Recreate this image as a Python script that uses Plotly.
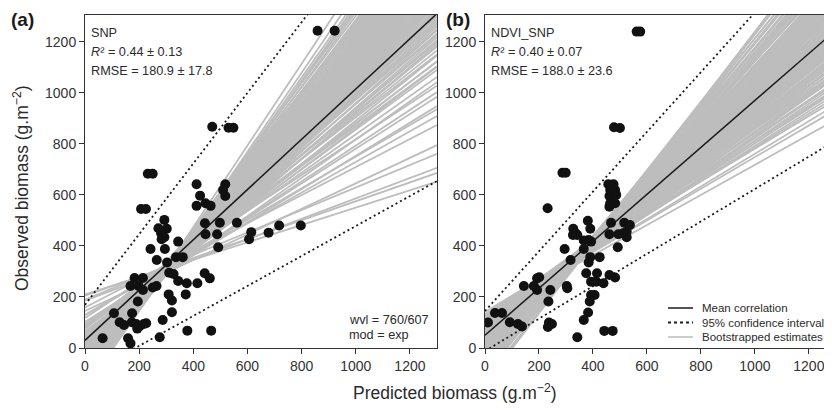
import plotly.graph_objects as go

X_END = 1300
FONT = "Liberation Sans, Arial, sans-serif"
INK = "#1a1a1a"
GRAY = "#bdbdbd"

# ---- panel (a): SNP ----
pred_a = [232, 250, 207, 225, 412, 518, 425, 510, 518, 412, 445, 464, 293, 443, 498, 561,
          271, 302, 281, 283, 293, 344, 445, 488, 614, 606, 678, 717, 797, 242, 295, 492,
          265, 303, 336, 361, 311, 327, 344, 376, 415, 442, 461, 183, 214, 168, 198, 214,
          250, 264, 309, 321, 372, 195, 107, 174, 321, 128, 144, 173, 189, 201, 217, 226,
          193, 287, 378, 466, 65, 159, 168, 276, 470, 530, 548, 859, 922]
obs_a = [683, 683, 545, 545, 642, 642, 597, 619, 596, 557, 567, 557, 502, 489, 491, 491,
         469, 467, 450, 426, 434, 417, 446, 446, 454, 426, 452, 480, 480, 388, 388, 395,
         345, 335, 356, 356, 295, 290, 263, 254, 254, 293, 273, 274, 274, 243, 243, 227,
         237, 243, 210, 186, 210, 182, 136, 136, 140, 101, 90, 101, 94, 84, 94, 97,
         76, 110, 68, 68, 38, 38, 18, 42, 867, 863, 863, 1243, 1243]
mean_a = (30, 0.985)                       # intercept, slope
ci_a = [(169, 1.385), (-109, 0.587)]
boot_a_int = [210, 205, 186, 189, 145, 159, 129, 103, 118, 93, 87, 67, 82, 62, 61, 41, 76,
              36, 56, 21, 25, 45, 10, 35, 0, 15, 30, -10, 10,
              -17, -7, 8, 23, -2, 13, -35, -25, -15, -5, 5, -20, -10,
              -42, -32, -22, -12, -2, -27, -17, -60, -50, -40, -30, -20, -45, -25,
              -67, -57, -47, -37, -27, -52, -84, -69, -54, -39, -64,
              -92, -77, -62, -87, -67, -109, -94, -79, -64, -112, -97, -82,
              -129, -114, -99, -135, -120, -155, -140, -161, -166,
              39, 55, 22, 37, 53, 11, 27, 41, -9, 6, 22, -4, -1, 13, -22, -7,
              -29, -13, -3, -34, -31, -11, -41, -25, -28, -59, -44, -24, -66, -50, -40, -71,
              -69, -49, -79, -75, -65, -96, -93, -73, -116, -100, -105, -137,
              76, 90, 58, 84, 130, 101]
boot_a_slope = [0.34, 0.37, 0.40, 0.44, 0.50, 0.55, 0.60, 0.65, 0.70, 0.70, 0.75, 0.75, 0.80,
                0.80, 0.85, 0.85, 0.85, 0.90, 0.90, 0.90, 0.95, 0.95, 0.95, 0.95,
                1.00, 1.00, 1.00, 1.00, 1.00,
                1.04, 1.04, 1.04, 1.04, 1.04, 1.04, 1.08, 1.08, 1.08, 1.08, 1.08, 1.08, 1.08,
                1.12, 1.12, 1.12, 1.12, 1.12, 1.12, 1.12, 1.16, 1.16, 1.16, 1.16, 1.16, 1.16, 1.16,
                1.20, 1.20, 1.20, 1.20, 1.20, 1.20, 1.24, 1.24, 1.24, 1.24, 1.24,
                1.28, 1.28, 1.28, 1.28, 1.28, 1.32, 1.32, 1.32, 1.32, 1.36, 1.36, 1.36,
                1.40, 1.40, 1.40, 1.45, 1.45, 1.50, 1.50, 1.55, 1.60,
                0.88, 0.88, 0.92, 0.92, 0.92, 0.97, 0.97, 0.97, 1.02, 1.02, 1.02, 1.02,
                1.06, 1.06, 1.06, 1.06, 1.10, 1.10, 1.10, 1.10, 1.14, 1.14, 1.14, 1.14,
                1.18, 1.18, 1.18, 1.18, 1.22, 1.22, 1.22, 1.22, 1.26, 1.26, 1.26,
                1.30, 1.30, 1.30, 1.34, 1.34, 1.38, 1.38, 1.43, 1.48,
                0.78, 0.78, 0.82, 0.82, 0.62, 0.68]

# ---- panel (b): NDVI_SNP ----
pred_b = [287, 299, 232, 457, 476, 464, 482, 461, 486, 464, 482, 461, 381, 327, 336, 390,
          326, 342, 366, 384, 393, 366, 295, 467, 516, 537, 461, 494, 512, 525, 525, 492,
          317, 390, 425, 384, 375, 415, 461, 482, 393, 412, 439, 201, 193, 144, 181, 193,
          242, 303, 305, 393, 406, 235, 388, 382, 366, 37, 63, 11, 92, 122, 137, 237,
          248, 233, 342, 442, 473, 562, 575, 478, 500]
obs_b = [687, 687, 548, 642, 642, 619, 619, 596, 600, 567, 567, 554, 499, 467, 450, 467,
         443, 443, 421, 423, 417, 388, 388, 491, 491, 482, 446, 446, 450, 434, 456, 395,
         345, 356, 356, 335, 293, 293, 286, 276, 260, 260, 254, 277, 273, 243, 243, 227,
         227, 243, 234, 208, 208, 182, 182, 139, 110, 137, 137, 100, 101, 94, 84, 100,
         94, 82, 42, 67, 67, 1240, 1240, 865, 862]
mean_b = (50, 0.92)
ci_b = [(145, 1.17), (-12, 0.635)]
boot_b_int = [128, 128, 121, 141, 112, 132, 122, 93, 108, 123, 103, 74, 89, 104, 119, 84,
              65, 80, 95, 70, 85, 100, 46, 61, 76, 91, 56, 71, 86, 37, 52, 67, 32, 47, 62, 77,
              18, 28, 38, 48, 58, 23, 43, 63, 9, 19, 29, 39, 49, 14, 34,
              -10, 5, 20, 35, 0, 15, 30, -19, -4, 11, -14, 1, 16, -38, -23, -8, 7, -28, -13,
              -47, -32, -17, -37, -22, -66, -51, -36, -56, -75, -60, -45, -65,
              -94, -79, -64, -103, -88, -122, -107, -131, -140,
              103, 127, 103, 118, 79, 95, 110, 70, 85, 61, 61, 76, 51, 67, 68, 42, 57, 33,
              33, 48, 23, 39, 40, 14, 29, 5, 5, 20, -5, 11, 12, -14, 1, -37, -23, -8,
              -47, -31, -16, -56, -41, -79, -65, -64, -89, -87, 126, -107, 24, 50]
boot_b_slope = [0.59, 0.62, 0.64, 0.64, 0.68, 0.68, 0.68, 0.72, 0.72, 0.72, 0.72,
                0.76, 0.76, 0.76, 0.76, 0.76, 0.80, 0.80, 0.80, 0.80, 0.80, 0.80,
                0.84, 0.84, 0.84, 0.84, 0.84, 0.84, 0.84, 0.88, 0.88, 0.88, 0.88, 0.88, 0.88, 0.88,
                0.92, 0.92, 0.92, 0.92, 0.92, 0.92, 0.92, 0.92, 0.96, 0.96, 0.96, 0.96, 0.96, 0.96, 0.96,
                1.00, 1.00, 1.00, 1.00, 1.00, 1.00, 1.00, 1.04, 1.04, 1.04, 1.04, 1.04, 1.04,
                1.08, 1.08, 1.08, 1.08, 1.08, 1.08, 1.12, 1.12, 1.12, 1.12, 1.12,
                1.16, 1.16, 1.16, 1.16, 1.20, 1.20, 1.20, 1.20, 1.24, 1.24, 1.24,
                1.28, 1.28, 1.32, 1.32, 1.36, 1.38,
                0.70, 0.70, 0.74, 0.74, 0.78, 0.78, 0.78, 0.82, 0.82, 0.82, 0.86, 0.86, 0.86, 0.86,
                0.90, 0.90, 0.90, 0.90, 0.94, 0.94, 0.94, 0.94, 0.98, 0.98, 0.98, 0.98,
                1.02, 1.02, 1.02, 1.02, 1.06, 1.06, 1.06, 1.10, 1.10, 1.10,
                1.14, 1.14, 1.14, 1.18, 1.18, 1.22, 1.22, 1.26, 1.26, 1.30, 0.66, 1.34, 0.96, 0.90]

TICKS = [0, 200, 400, 600, 800, 1000, 1200]

# the page body keeps an 8px margin, so the figure is 8px smaller and all
# positions below are given in window pixels
OFF = 8
W, H = 832 - OFF, 410 - OFF


def px(v):
    return (v - OFF) / W


def py(v):
    return (H - (v - OFF)) / H


def _segments(intercepts, slopes):
    """Regression lines as one trace: x from 0 to X_END, separated by None."""
    xs, ys = [], []
    for b, m in zip(intercepts, slopes):
        xs += [0, X_END, None]
        ys += [b, b + m * X_END, None]
    return xs, ys


def add_panel(fig, xa, ya, pred, obs, mean, ci, boot_int, boot_slope):
    bx, by = _segments(boot_int, boot_slope)
    fig.add_trace(go.Scatter(x=bx, y=by, mode="lines", xaxis=xa, yaxis=ya,
                             line=dict(color=GRAY, width=1.8), hoverinfo="skip"))
    cx, cy = _segments([c[0] for c in ci], [c[1] for c in ci])
    fig.add_trace(go.Scatter(x=cx, y=cy, mode="lines", xaxis=xa, yaxis=ya,
                             line=dict(color=INK, width=1.8, dash="2px,3px"), hoverinfo="skip"))
    mx, my = _segments([mean[0]], [mean[1]])
    fig.add_trace(go.Scatter(x=mx, y=my, mode="lines", xaxis=xa, yaxis=ya,
                             line=dict(color=INK, width=1.5), hoverinfo="skip"))
    fig.add_trace(go.Scatter(x=pred, y=obs, mode="markers", xaxis=xa, yaxis=ya,
                             marker=dict(color="#111111", size=10, line=dict(width=0))))


fig = go.Figure()
add_panel(fig, "x", "y", pred_a, obs_a, mean_a, ci_a, boot_a_int, boot_a_slope)
add_panel(fig, "x2", "y2", pred_b, obs_b, mean_b, ci_b, boot_b_int, boot_b_slope)

axis = dict(tickvals=TICKS, ticks="outside", ticklen=5, tickwidth=1, tickcolor="#333",
            showline=True, linecolor="#333", linewidth=1, mirror=True, showgrid=False,
            zeroline=False, automargin=False, tickfont=dict(size=14, color="#333", family=FONT))

annots = []


def text(x, y, s, size=12, color="#2b2b2b", xanchor="left", **kw):
    annots.append(dict(x=px(x), y=py(y), xref="paper", yref="paper", text=s, showarrow=False,
                       xanchor=xanchor, yanchor="middle",
                       font=dict(size=size, color=color, family=FONT), **kw))


text(22, 20, "<b>(a)</b>", size=19, color=INK, xanchor="center")
text(458, 20, "<b>(b)</b>", size=19, color=INK, xanchor="center")

for x0, lines in [(89, ["SNP", "<i>R</i>² = 0.44 ± 0.13", "RMSE = 180.9 ± 17.8"]),
                  (489, ["NDVI_SNP", "<i>R</i>² = 0.40 ± 0.07", "RMSE = 188.0 ± 23.6"])]:
    for i, s in enumerate(lines):
        text(x0, 33 + 19 * i, s, size=12.7)

text(347, 320, "wvl = 760/607", size=12.7)
text(347, 335, "mod = exp", size=12.7)

text(21, 188, "Observed biomass (g.m<sup>−2</sup>)", size=17.5, xanchor="center", textangle=-90)
text(455, 392, "Predicted biomass (g.m<sup>−2</sup>)", size=17.5, xanchor="center")

# legend (panel b, lower right)
shapes = []
legend_rows = [("Mean correlation", "solid", INK, 1.5),
               ("95% confidence interval", "3px,3px", INK, 1.8),
               ("Bootstrapped estimates", "solid", GRAY, 1.5)]
for i, (label, dash, col, w) in enumerate(legend_rows):
    yy = 308 + 14.5 * i
    shapes.append(dict(type="line", xref="paper", yref="paper", x0=px(668), x1=px(693),
                       y0=py(yy), y1=py(yy), line=dict(color=col, width=w, dash=dash)))
    text(700, yy, label, size=11.5)

fig.update_layout(
    width=W, height=H, margin=dict(l=0, r=0, t=0, b=0),
    paper_bgcolor="white", plot_bgcolor="white", showlegend=False,
    font=dict(family=FONT, color="#333"),
    xaxis=dict(axis, domain=[px(85), px(437)], range=[0, 1300], anchor="y"),
    yaxis=dict(axis, domain=[py(348), py(15)], range=[0, 1305], anchor="x"),
    xaxis2=dict(axis, domain=[px(485), px(831)], range=[0, 1282], anchor="y2"),
    yaxis2=dict(axis, domain=[py(348), py(15)], range=[0, 1305], anchor="x2"),
    annotations=annots, shapes=shapes,
)

fig.write_html("out.html")
